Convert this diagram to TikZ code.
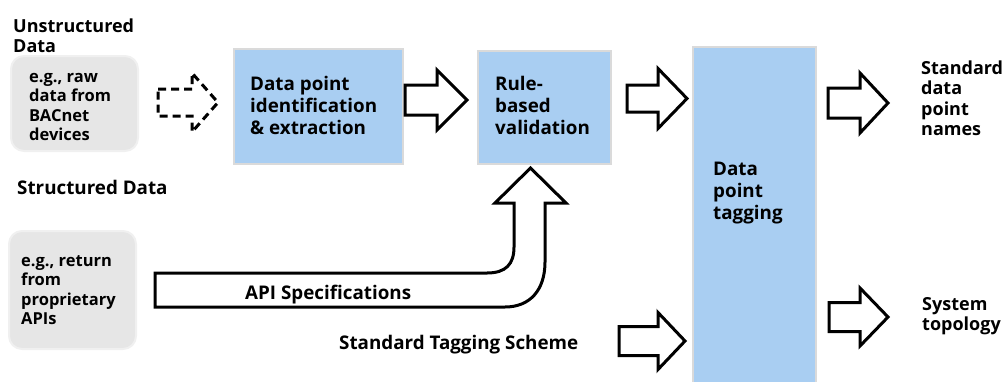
\documentclass[tikz,border=0pt]{standalone}
\usepackage{fontspec}
\setmainfont{Open Sans}

\definecolor{panelfill}{RGB}{169,206,242}
\definecolor{paneledge}{RGB}{218,218,218}
\definecolor{srcfill}{RGB}{230,230,230}
\definecolor{srcedge}{RGB}{240,240,240}

% text block whose reference point is the baseline of its first line
\newcommand\textblock[2]{\parbox[t]{#1pt}{\raggedright #2}}

% block arrow: body left, head base, tip x, centre y, body half height, head half height, extra style
\newcommand\blockarrow[7]{%
  \draw[flow,#7] (#1,#4-#5) -- (#2,#4-#5) -- (#2,#4-#6) -- (#3,#4)
    -- (#2,#4+#6) -- (#2,#4+#5) -- (#1,#4+#5) -- cycle;}

\tikzset{
  panel/.style={draw=paneledge, line width=1.5pt, fill=panelfill, anchor=north west, inner sep=0pt},
  srcbox/.style={draw=srcedge, line width=2pt, fill=srcfill, rounded corners=13pt, anchor=north west, inner sep=0pt},
  flow/.style={draw=black, line width=3pt, fill=white, line join=miter, miter limit=10},
  lbl/.style={anchor=base west, inner sep=0pt, font=\bfseries\fontsize{18}{20.5}\selectfont},
  biglbl/.style={lbl, font=\bfseries\fontsize{18.8}{22}\selectfont},
  srclbl/.style={anchor=base west, inner sep=0pt, font=\bfseries\fontsize{16.5}{19.5}\selectfont},
  panellbl/.style={anchor=base west, inner sep=0pt, font=\bfseries\fontsize{18.8}{22}\selectfont},
}

\begin{document}
\begin{tikzpicture}[x=1pt,y=-1pt]
\useasboundingbox (0,0) rectangle (1008,381);
\clip (0,0) rectangle (1008,381);

% source boxes
\node[srcbox, minimum width=127pt, minimum height=95pt] (raw) at (10,55) {};
\node[srcbox, minimum width=127pt, minimum height=118pt] (api) at (8,230) {};

% processing panels
\node[panel, minimum width=169pt, minimum height=115pt] (ident) at (233,48) {};
\node[panel, minimum width=133pt, minimum height=113pt] (rule) at (477,50) {};
\node[panel, minimum width=123pt, minimum height=344pt] (tag) at (692,46) {};

% labels
\node[lbl] (unstr) at (13,32) {\textblock{200}{Unstructured\\Data}};
\node[biglbl] (str) at (17,194) {\textblock{200}{Structured Data}};
\node[srclbl] (rawtxt) at (29,82) {\textblock{110}{e.g., raw\\data from\\BACnet\\devices}};
\node[srclbl] (apitxt) at (21,266) {\textblock{115}{e.g., return\\from\\proprietary\\APIs}};
\node[panellbl] (identtxt) at (250,90) {\textblock{150}{Data point\\identification\\\& extraction}};
\node[panellbl] (ruletxt) at (495,90) {\textblock{110}{Rule-\\based\\validation}};
\node[panellbl] (tagtxt) at (713,175) {\textblock{100}{Data\\point\\tagging}};
\node[lbl] (names) at (921,74) {\textblock{90}{Standard\\data\\point\\names}};
\node[lbl] (topo) at (922,310) {\textblock{90}{System\\topology}};

% block arrows between stages
\blockarrow{158}{192}{218}{102.5}{13.5}{29.5}{dashed, dash pattern=on 8pt off 5pt}
\blockarrow{405}{437}{467}{100}{15}{30}{}
\blockarrow{627}{658}{687}{98.5}{13.5}{30}{}
\blockarrow{828}{860}{888}{103}{15}{30}{}
\blockarrow{829}{860}{888}{317}{14.5}{29}{}
\blockarrow{619}{658}{685}{341}{14.5}{28.5}{}

% bent arrow carrying the API specifications up into validation
\draw[flow] (155,273) -- (487,273) .. controls (506,273) and (514,264) .. (514,247)
  -- (514,203) -- (495,203) -- (530.5,168) -- (566,203) -- (545,203)
  -- (545,262) .. controls (545,290) and (530,307) .. (505,307) -- (155,307) -- cycle;
\node[biglbl] (apispec) at (245,299) {API Specifications};
\node[biglbl] (scheme) at (339,349) {Standard Tagging Scheme};
\end{tikzpicture}
\end{document}
